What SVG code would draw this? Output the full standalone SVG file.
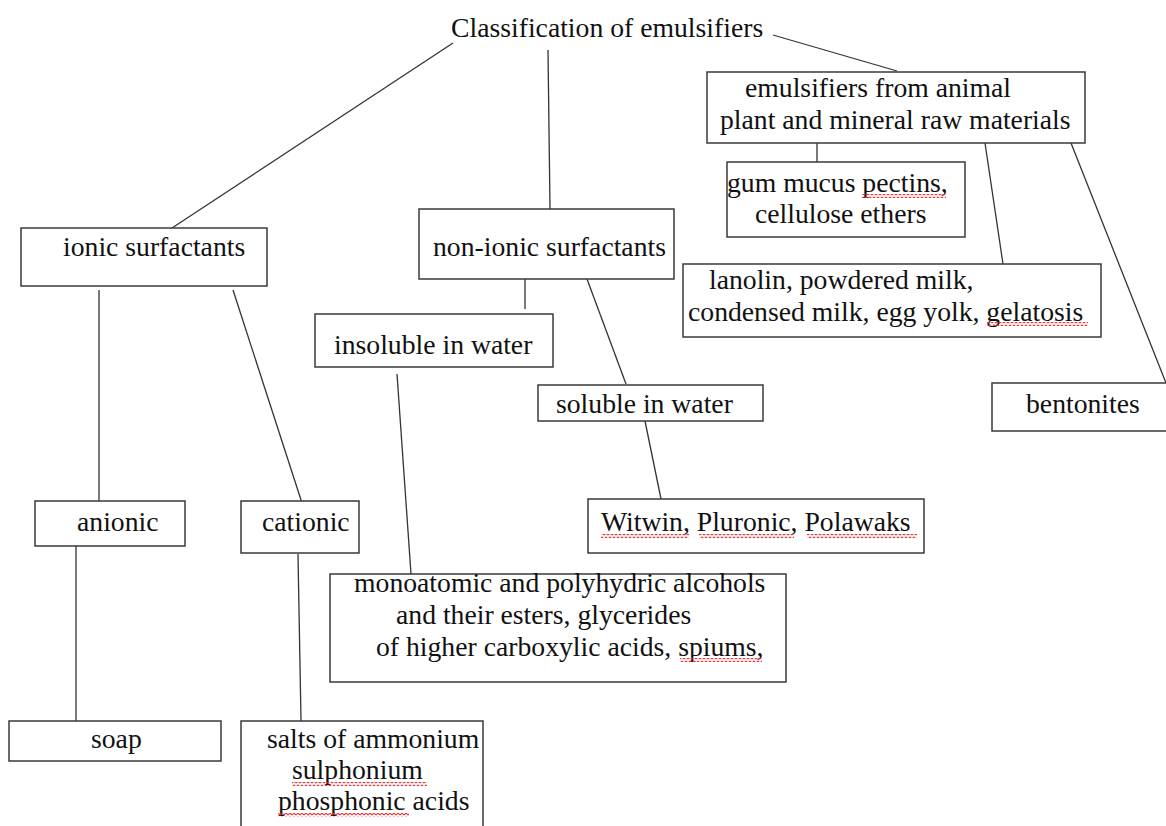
<svg xmlns="http://www.w3.org/2000/svg" width="1166" height="826" viewBox="0 0 1166 826">
  <style>
    .box { fill: #ffffff; stroke: #3a3a3a; stroke-width: 1.5; }
    .lbl { font-family: 'Liberation Serif', 'Times New Roman', serif; font-size: 27.7px; fill: #111111; }
    .link { stroke: #333333; stroke-width: 1.3; fill: none; }
  </style>
  <defs>
    <!-- spell-check style wavy underline -->
    <pattern id="wave" width="4" height="4" patternUnits="userSpaceOnUse">
      <path d="M0,3 L2,1 L4,3" stroke="#e03a3a" stroke-width="1.1" fill="none"/>
    </pattern>
  </defs>
  <rect width="1166" height="826" fill="#ffffff"/>

  <g id="connectors">
    <line class="link" x1="773" y1="35" x2="897" y2="71"/>
    <line class="link" x1="453" y1="43" x2="172" y2="228"/>
    <line class="link" x1="548" y1="50" x2="550" y2="209"/>
    <line class="link" x1="817" y1="143" x2="817" y2="162"/>
    <line class="link" x1="985" y1="143" x2="1003" y2="264"/>
    <line class="link" x1="1071" y1="143" x2="1166" y2="383"/>
    <line class="link" x1="99" y1="290" x2="99" y2="501"/>
    <line class="link" x1="233" y1="290" x2="302" y2="503"/>
    <line class="link" x1="76" y1="546" x2="76" y2="721"/>
    <line class="link" x1="298" y1="554" x2="301" y2="721"/>
    <line class="link" x1="525" y1="279" x2="525" y2="309"/>
    <line class="link" x1="587" y1="279" x2="626" y2="384"/>
    <line class="link" x1="397" y1="374" x2="411" y2="574"/>
    <line class="link" x1="645" y1="421" x2="661" y2="499"/>
  </g>

  <g id="title">
    <text class="lbl" x="451" y="37">Classification of emulsifiers</text>
  </g>

  <g id="natural">
    <rect class="box" x="707" y="72" width="378" height="71"/>
    <text class="lbl" x="745" y="97">emulsifiers from animal</text>
    <text class="lbl" x="720" y="129">plant and mineral raw materials</text>
  </g>

  <g id="gum">
    <rect class="box" x="727" y="162" width="238" height="75"/>
    <text class="lbl" x="727" y="192">gum mucus pectins,</text>
    <text class="lbl" x="755" y="223">cellulose ethers</text>
    <rect x="862" y="194" width="84" height="4" fill="url(#wave)"/>
  </g>

  <g id="lanolin">
    <rect class="box" x="683" y="264" width="418" height="73"/>
    <text class="lbl" x="709" y="289">lanolin, powdered milk,</text>
    <text class="lbl" x="688" y="321">condensed milk, egg yolk, gelatosis</text>
    <rect x="987" y="322" width="101" height="4" fill="url(#wave)"/>
  </g>

  <g id="bentonites">
    <rect class="box" x="992" y="383" width="180" height="48"/>
    <text class="lbl" x="1026" y="413">bentonites</text>
  </g>

  <g id="ionic">
    <rect class="box" x="21" y="228" width="246" height="58"/>
    <text class="lbl" x="63" y="256">ionic surfactants</text>
  </g>

  <g id="anionic">
    <rect class="box" x="35" y="501" width="150" height="45"/>
    <text class="lbl" x="77" y="531">anionic</text>
  </g>

  <g id="cationic">
    <rect class="box" x="241" y="501" width="118" height="52"/>
    <text class="lbl" x="262" y="531">cationic</text>
  </g>

  <g id="soap">
    <rect class="box" x="9" y="721" width="212" height="40"/>
    <text class="lbl" x="91" y="748">soap</text>
  </g>

  <g id="salts">
    <rect class="box" x="241" y="721" width="242" height="120"/>
    <text class="lbl" x="267" y="748">salts of ammonium</text>
    <text class="lbl" x="292" y="779">sulphonium</text>
    <text class="lbl" x="278" y="810">phosphonic acids</text>
    <rect x="292" y="782" width="135" height="4" fill="url(#wave)"/>
    <rect x="278" y="813" width="131" height="4" fill="url(#wave)"/>
  </g>

  <g id="nonionic">
    <rect class="box" x="419" y="209" width="255" height="70"/>
    <text class="lbl" x="433" y="256">non-ionic surfactants</text>
  </g>

  <g id="insoluble">
    <rect class="box" x="315" y="314" width="238" height="53"/>
    <text class="lbl" x="334" y="354">insoluble in water</text>
  </g>

  <g id="soluble">
    <rect class="box" x="538" y="385" width="225" height="36"/>
    <text class="lbl" x="556" y="413">soluble in water</text>
  </g>

  <g id="witwin">
    <rect class="box" x="588" y="499" width="336" height="54"/>
    <text class="lbl" x="601" y="531">Witwin, Pluronic, Polawaks</text>
    <rect x="601" y="534" width="88" height="4" fill="url(#wave)"/>
    <rect x="699" y="534" width="95" height="4" fill="url(#wave)"/>
    <rect x="807" y="534" width="110" height="4" fill="url(#wave)"/>
  </g>

  <g id="alcohols">
    <rect class="box" x="330" y="574" width="456" height="108"/>
    <text class="lbl" x="354" y="592">monoatomic and polyhydric alcohols</text>
    <text class="lbl" x="396" y="624">and their esters, glycerides</text>
    <text class="lbl" x="376" y="656">of higher carboxylic acids, spiums,</text>
    <rect x="680" y="658" width="82" height="4" fill="url(#wave)"/>
  </g>
</svg>
